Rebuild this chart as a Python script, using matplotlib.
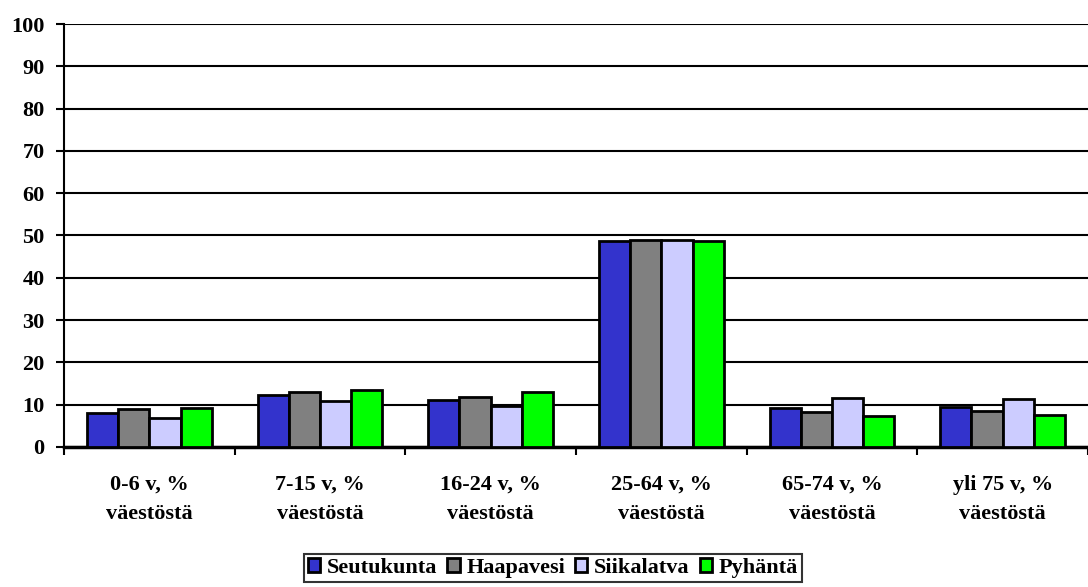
import matplotlib.pyplot as plt
import numpy as np

plt.rcParams['font.family'] = ['Liberation Serif', 'DejaVu Serif']
plt.rcParams['font.weight'] = 'bold'

categories = ["0-6 v, %\nväestöstä", "7-15 v, %\nväestöstä", "16-24 v, %\nväestöstä",
              "25-64 v, %\nväestöstä", "65-74 v, %\nväestöstä", "yli 75 v, %\nväestöstä"]
series_names = ["Seutukunta", "Haapavesi", "Siikalatva", "Pyhäntä"]
seutukunta = [8.1, 12.2, 11.1, 48.7, 9.3, 9.5]
haapavesi = [8.9, 13.0, 11.8, 48.9, 8.3, 8.5]
siikalatva = [6.9, 10.8, 9.7, 48.9, 11.5, 11.3]
pyhanta = [9.2, 13.4, 13.1, 48.7, 7.4, 7.6]
colors = ["#3333CC", "#808080", "#CCCCFF", "#00FF00"]


def main():
    fig = plt.figure(figsize=(10.88, 5.87), dpi=100)
    ax = fig.add_axes([64 / 1088, 1 - 447 / 587, 1 - 64 / 1088, (447 - 24) / 587])

    x = np.arange(len(categories))
    width = 0.183
    values = [seutukunta, haapavesi, siikalatva, pyhanta]
    for i, (name, vals) in enumerate(zip(series_names, values)):
        ax.bar(x + (i - 1.5) * width, vals, width, color=colors[i], edgecolor="black",
               linewidth=2, label=name, zorder=3)

    ax.set_xlim(-0.5, len(categories) - 0.5)
    ax.set_ylim(0, 100)
    ax.set_yticks(range(0, 101, 10))
    ax.yaxis.grid(True, color="black", linewidth=1.5, zorder=0)
    ax.set_axisbelow(True)

    # ticks at category borders, labels at centres
    ax.set_xticks(np.arange(len(categories) + 1) - 0.5)
    ax.set_xticklabels([])
    ax.set_xticks(x, minor=True)
    ax.set_xticklabels(categories, minor=True, fontsize=16, fontweight="bold",
                       linespacing=1.6)
    ax.tick_params(axis="x", which="minor", length=0, pad=20)
    ax.tick_params(axis="x", which="major", length=6, width=1.5, direction="out")
    ax.tick_params(axis="y", length=6, width=1.5, labelsize=16, pad=8)

    for s in ["top", "right"]:
        ax.spines[s].set_visible(False)
    ax.spines["left"].set_linewidth(1.5)
    ax.spines["bottom"].set_linewidth(2.5)

    leg = fig.legend(loc="center", bbox_to_anchor=(553 / 1088, 1 - 568 / 587), ncol=4,
                     fontsize=16, frameon=True, fancybox=False, edgecolor="black",
                     handlelength=0.55, handleheight=0.55, handletextpad=0.3,
                     columnspacing=0.45, borderpad=0.2, borderaxespad=0)
    leg.get_frame().set_linewidth(1.5)
    for t in leg.get_texts():
        t.set_fontweight("bold")

    fig.savefig("out.png", dpi=100)


if __name__ == '__main__':
    main()
